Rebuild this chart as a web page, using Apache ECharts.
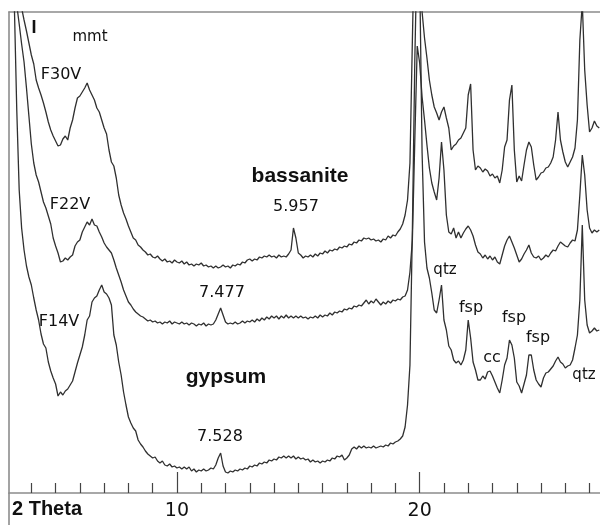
<!DOCTYPE html>
<html>
<head>
<meta charset="utf-8">
<script src="https://cdn.jsdelivr.net/npm/echarts@6/dist/echarts.min.js"></script>
<style>html,body{margin:0;padding:0;background:#fff}#c{width:600px;height:525px}</style>
</head>
<body>
<div id="c"></div>
<script>
// 2-theta scan positions (degrees)
const twoTheta = [
3.1,3.2,3.3,3.4,3.5,3.6,3.7,3.8,3.9,
4.0,4.1,4.2,4.3,4.4,4.5,4.6,4.7,4.8,4.9,
5.0,5.1,5.2,5.3,5.4,5.5,5.6,5.7,5.8,5.9,
6.0,6.1,6.2,6.3,6.4,6.5,6.6,6.7,6.8,6.9,
7.0,7.1,7.2,7.3,7.4,7.5,7.6,7.7,7.8,7.9,
8.0,8.1,8.2,8.3,8.4,8.5,8.6,8.7,8.8,8.9,
9.0,9.1,9.2,9.3,9.4,9.5,9.6,9.7,9.8,9.9,
10.0,10.1,10.2,10.3,10.4,10.5,10.6,10.7,10.8,10.9,
11.0,11.1,11.2,11.3,11.4,11.5,11.6,11.7,11.8,11.9,
12.0,12.1,12.2,12.3,12.4,12.5,12.6,12.7,12.8,12.9,
13.0,13.1,13.2,13.3,13.4,13.5,13.6,13.7,13.8,13.9,
14.0,14.1,14.2,14.3,14.4,14.5,14.6,14.7,14.8,14.9,
15.0,15.1,15.2,15.3,15.4,15.5,15.6,15.7,15.8,15.9,
16.0,16.1,16.2,16.3,16.4,16.5,16.6,16.7,16.8,16.9,
17.0,17.1,17.2,17.3,17.4,17.5,17.6,17.7,17.8,17.9,
18.0,18.1,18.2,18.3,18.4,18.5,18.6,18.7,18.8,18.9,
19.0,19.1,19.2,19.3,19.4,19.5,19.6,19.7,19.8,19.9,
20.0,20.1,20.2,20.3,20.4,20.5,20.6,20.7,20.8,20.9,
21.0,21.1,21.2,21.3,21.4,21.5,21.6,21.7,21.8,21.9,
22.0,22.1,22.2,22.3,22.4,22.5,22.6,22.7,22.8,22.9,
23.0,23.1,23.2,23.3,23.4,23.5,23.6,23.7,23.8,23.9,
24.0,24.1,24.2,24.3,24.4,24.5,24.6,24.7,24.8,24.9,
25.0,25.1,25.2,25.3,25.4,25.5,25.6,25.7,25.8,25.9,
26.0,26.1,26.2,26.3,26.4,26.5,26.6,26.7,26.8,26.9,
27.0,27.1,27.2,27.3,27.4
];

// Intensities (arbitrary units, offset patterns)
const f30v = [
553,538,523,510,497,485,473,462,450,
438,429,413,405,398,390,381,371,363,357,
352,347,348,354,357,353,365,373,385,395,
397,401,405,410,403,398,393,385,381,373,
365,359,343,331,327,315,298,288,280,274,
267,261,255,253,248,246,243,241,238,239,
236,235,237,234,232,234,231,232,230,233,
231,230,232,229,231,228,229,227,229,228,
230,227,228,226,227,225,227,225,226,228,
226,227,225,228,227,229,228,231,230,233,
234,232,234,233,236,235,237,236,238,236,
237,235,238,236,237,236,239,243,265,255,
240,238,235,237,236,238,236,239,237,240,
239,242,240,243,242,244,243,246,245,247,
246,249,248,251,250,253,252,255,254,255,
253,254,252,253,251,254,253,257,255,258,
257,261,264,269,278,293,330,453,573,613,
583,481,455,435,413,398,386,380,373,381,
386,375,365,343,347,349,353,355,360,365,
398,409,343,323,327,325,321,324,322,317,
319,315,317,310,323,346,353,393,408,343,
311,317,312,328,343,351,346,328,313,316,
320,321,325,326,330,336,353,381,353,341,
331,326,331,336,345,373,453,490,423,388,
361,365,372,367,365
];

const f22v = [
563,533,508,488,469,449,431,405,377,
349,330,318,311,301,291,285,277,269,255,
247,240,231,232,235,233,236,238,247,251,
253,261,266,271,268,274,268,267,261,256,
250,246,243,240,233,225,218,211,203,197,
191,188,184,181,179,177,176,174,172,173,
171,172,170,171,169,171,170,172,169,171,
170,169,171,169,170,168,170,169,167,169,
168,170,167,169,168,169,173,179,185,178,
171,169,170,169,171,169,170,172,170,172,
171,173,171,174,172,175,173,176,174,177,
175,177,174,177,175,178,175,177,175,177,
175,177,175,176,174,176,175,177,175,178,
176,178,177,180,178,181,180,182,181,184,
183,185,184,187,186,188,187,190,193,189,
192,190,194,191,188,191,189,192,190,193,
192,194,193,196,197,203,221,253,353,447,
430,396,373,348,325,310,301,293,315,351,
323,278,261,259,265,255,261,255,260,264,
267,263,257,248,241,239,235,238,234,237,
233,236,231,229,238,247,253,257,251,245,
238,231,234,239,243,248,240,236,235,237,
233,235,238,236,240,243,242,247,251,249,
247,246,250,253,252,263,298,338,318,283,
265,260,263,261,263
];

const f14v = [
643,553,488,383,303,265,243,227,216,
208,195,183,173,159,149,145,131,122,115,
109,97,101,98,102,104,108,112,121,130,
138,146,158,173,177,191,195,197,203,208,
201,199,195,188,158,148,131,118,101,88,
76,70,65,62,53,49,46,42,39,37,
35,36,32,30,32,28,27,29,26,27,
25,26,24,26,24,26,22,24,21,23,
22,24,22,23,25,24,28,35,40,27,
21,20,22,21,23,22,24,23,25,24,
27,26,28,27,30,29,31,30,33,32,
34,33,36,35,37,35,37,35,37,34,
36,34,35,33,34,31,33,31,32,30,
32,31,33,32,35,34,37,36,38,33,
35,38,44,46,44,47,45,47,45,46,
45,47,45,46,47,46,48,47,50,49,
51,52,54,57,66,88,128,263,433,553,
520,340,251,225,215,200,183,180,193,208,
173,163,147,143,133,130,132,128,133,143,
173,155,131,123,113,113,117,114,121,122,
117,111,105,100,113,128,135,153,148,135,
111,107,100,109,118,138,138,123,113,109,
106,115,120,121,124,127,132,136,131,129,
125,127,128,133,145,158,193,268,193,168,
160,162,165,162,163
];

const minorTicks = [4,5,6,7,8,9,11,12,13,14,15,16,17,18,19,21,22,23,24,25,26,27];
const majorTicks = [10, 20];
const sampleNames = ['F30V', 'F22V', 'F14V'];

const pair = arr => twoTheta.map((t, i) => [t, arr[i]]);

const chart = echarts.init(document.getElementById('c'), null, {renderer: 'canvas'});
const axisGray = '#8c8c8c';
const tickColor = '#444';
const lineColor = '#303030';
const regFont = '"DejaVu Sans"';
const boldFont = '"Liberation Sans"';

function txt(text, x, y, size, bold, family) {
  return {
    type: 'text', x: x, y: y, silent: true,
    style: {
      text: text,
      font: (bold ? 'bold ' : '') + size + 'px ' + family,
      fill: '#111',
      align: 'center',
      verticalAlign: 'middle'
    }
  };
}

chart.setOption({
  animation: false,
  backgroundColor: '#fff',
  grid: {left: 9, right: 0, top: 12, bottom: 32, containLabel: false},
  xAxis: [
    {
      type: 'value', min: 3.08, max: 27.43, position: 'bottom',
      axisLine: {show: true, lineStyle: {color: axisGray, width: 1.6}},
      axisTick: {show: true, inside: true, length: 21, customValues: majorTicks, lineStyle: {color: tickColor, width: 1.2}},
      axisLabel: {show: true, customValues: majorTicks, fontSize: 19, fontFamily: 'DejaVu Sans', color: '#111', margin: 9},
      splitLine: {show: false}
    },
    {
      type: 'value', min: 3.08, max: 27.43, position: 'bottom',
      axisLine: {show: false},
      axisTick: {show: true, inside: true, length: 10, customValues: minorTicks, lineStyle: {color: tickColor, width: 1.2}},
      axisLabel: {show: false},
      splitLine: {show: false}
    },
    {
      type: 'value', min: 3.08, max: 27.43, position: 'top',
      axisLine: {show: true, lineStyle: {color: axisGray, width: 1.6}},
      axisTick: {show: false}, axisLabel: {show: false}, splitLine: {show: false}
    }
  ],
  yAxis: {
    type: 'value', min: 0, max: 481,
    axisLine: {show: true, lineStyle: {color: axisGray, width: 1.6}},
    axisTick: {show: false}, axisLabel: {show: false}, splitLine: {show: false}
  },
  series: [f30v, f22v, f14v].map((arr, i) => ({
    name: sampleNames[i],
    type: 'line',
    xAxisIndex: 0,
    data: pair(arr),
    showSymbol: false,
    clip: true,
    lineStyle: {color: lineColor, width: 1.3},
    z: 3
  })),
  graphic: [
    {type: 'line', silent: true, shape: {x1: 9, y1: 493, x2: 9, y2: 525}, style: {stroke: axisGray, lineWidth: 1.6}},
    txt('I', 34, 28, 18, true, boldFont),
    txt('mmt', 90, 37, 15, false, regFont),
    txt('F30V', 61, 74.5, 16, false, regFont),
    txt('F22V', 70, 204.5, 16, false, regFont),
    txt('F14V', 59, 321.5, 16, false, regFont),
    txt('bassanite', 300, 176, 21, true, boldFont),
    txt('5.957', 296, 206.5, 16, false, regFont),
    txt('7.477', 222, 292.5, 16, false, regFont),
    txt('gypsum', 226, 377.5, 21, true, boldFont),
    txt('7.528', 220, 436.5, 16, false, regFont),
    txt('qtz', 445, 270.5, 15, false, regFont),
    txt('fsp', 471, 307.5, 16, false, regFont),
    txt('fsp', 514, 317.5, 16, false, regFont),
    txt('cc', 492, 357.5, 16, false, regFont),
    txt('fsp', 538, 337.5, 16, false, regFont),
    txt('qtz', 584, 375, 15, false, regFont),
    {type: 'text', silent: true, left: 12, top: 499, style: {text: '2 Theta', font: 'bold 20px "Liberation Sans"', fill: '#111'}}
  ]
});
</script>
</body>
</html>
